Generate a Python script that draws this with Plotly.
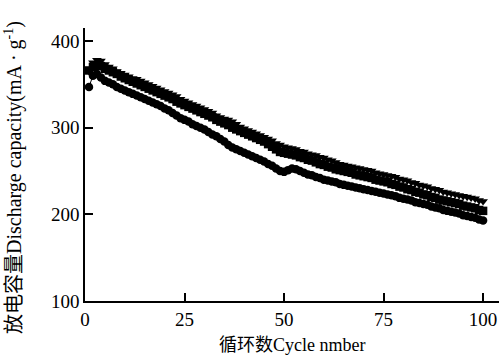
import plotly.graph_objects as go

cycles = list(range(1, 101))

tri_vals = [365, 375, 378, 377, 373, 370, 368, 365, 363, 361,
            359, 357, 356, 354, 352, 350, 348, 346, 344, 342,
            340, 338, 336, 333, 331, 329, 327, 325, 323, 321,
            319, 317, 314, 312, 310, 309, 307, 304, 301, 299,
            297, 295, 293, 291, 289, 287, 285, 282, 280, 278,
            277, 276, 275, 273, 272, 270, 269, 268, 266, 265,
            263, 262, 260, 258, 257, 256, 255, 254, 253, 252,
            251, 250, 248, 247, 246, 245, 244, 243, 241, 240,
            239, 237, 236, 234, 233, 232, 230, 229, 228, 226,
            225, 224, 223, 222, 221, 220, 219, 218, 216, 215]

sq_vals = [366, 370, 372, 371, 368, 366, 364, 362, 359, 357,
           355, 353, 351, 349, 347, 345, 343, 341, 339, 337,
           335, 333, 330, 328, 326, 324, 322, 320, 318, 316,
           314, 312, 309, 307, 305, 303, 300, 298, 296, 294,
           292, 290, 288, 286, 284, 281, 278, 275, 272, 271,
           270, 269, 268, 266, 265, 263, 262, 260, 258, 257,
           255, 254, 252, 251, 250, 249, 248, 246, 245, 244,
           243, 242, 240, 239, 238, 237, 235, 234, 232, 231,
           229, 228, 226, 225, 223, 222, 220, 219, 217, 216,
           215, 214, 213, 212, 210, 209, 208, 207, 205, 204]

circ_vals = [347, 360, 362, 358, 354, 352, 350, 347, 345, 343,
             341, 339, 337, 335, 333, 331, 329, 327, 325, 322,
             320, 317, 314, 311, 309, 307, 304, 302, 300, 298,
             295, 292, 290, 287, 284, 280, 277, 275, 273, 271,
             269, 267, 265, 263, 261, 258, 256, 253, 250, 249,
             251, 253, 252, 250, 248, 246, 245, 243, 242, 240,
             239, 238, 237, 235, 234, 233, 232, 231, 230, 229,
             228, 227, 226, 225, 224, 223, 222, 221, 219, 218,
             217, 216, 214, 213, 212, 211, 209, 208, 207, 205,
             204, 203, 202, 201, 199, 198, 197, 196, 194, 193]

x_ticks = [0, 25, 50, 75, 100]
y_ticks = [100, 200, 300, 400]

x_title = "循环数Cycle nmber"
y_title = "放电容量Discharge capacity(mA · g<sup>-1</sup>)"

FONT = "Liberation Serif, Noto Sans CJK SC, serif"

fig = go.Figure()
for vals, sym in [(circ_vals, "circle"), (sq_vals, "square"), (tri_vals, "triangle-down")]:
    fig.add_trace(go.Scatter(
        x=cycles, y=vals, mode="lines+markers",
        line=dict(color="black", width=1),
        marker=dict(symbol=sym, size=8.5, color="black"),
        showlegend=False,
    ))

fig.update_layout(
    width=504, height=356,
    margin=dict(l=85, r=5, t=28, b=55),
    paper_bgcolor="white", plot_bgcolor="white",
    font=dict(family=FONT, size=18, color="black"),
    xaxis=dict(range=[0, 104], tickvals=x_ticks, ticks="inside", ticklen=8,
               tickwidth=1.5, tickcolor="black", showline=True, linecolor="black",
               linewidth=1.5, showgrid=False, zeroline=False,
               tickfont=dict(size=19)),
    yaxis=dict(range=[100, 415], tickvals=y_ticks, ticks="inside", ticklen=8,
               tickwidth=1.5, tickcolor="black", showline=True, linecolor="black",
               linewidth=1.5, showgrid=False, zeroline=False,
               tickfont=dict(size=19)),
    annotations=[
        dict(text=x_title, xref="paper", yref="paper", x=(292-85)/414, y=-(345-301)/273,
             showarrow=False, font=dict(size=18), xanchor="center", yanchor="middle"),
        dict(text=y_title, xref="paper", yref="paper", x=-(85-13)/414, y=(301-178)/273,
             showarrow=False, font=dict(size=20), textangle=-90,
             xanchor="center", yanchor="middle"),
    ],
)

fig.write_html("out.html")
